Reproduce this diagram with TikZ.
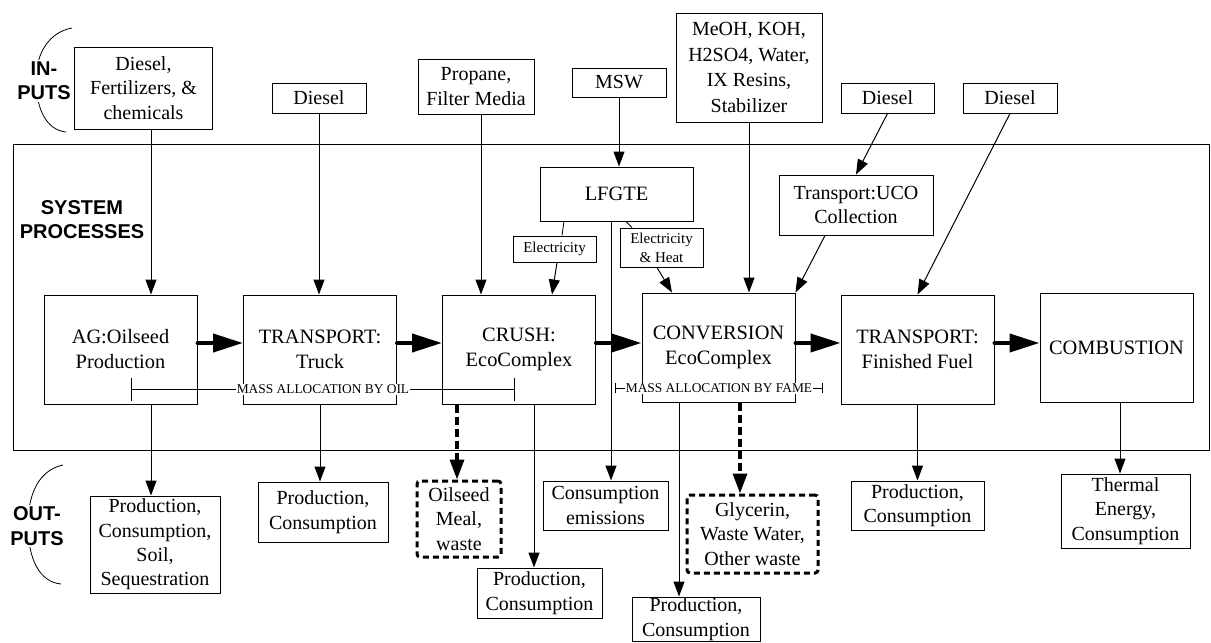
\documentclass[tikz,border=0pt]{standalone}
\usepackage{fontspec}
\setmainfont{Liberation Serif}
\setsansfont{Liberation Sans}
\usetikzlibrary{arrows.meta}

\tikzset{
	box/.style={draw, line width=0.5pt, align=center, inner sep=1pt, font=\fontsize{10}{12.2}\selectfont},
	procbox/.style={box, minimum width=76.5pt, minimum height=54.5pt, font=\fontsize{10.2}{12.5}\selectfont},
	smallbox/.style={box, font=\fontsize{7.5}{9.5}\selectfont},
	wastebox/.style={box, line width=1.5pt, dash pattern=on 3pt off 2pt, rounded corners=1.5pt},
	tag/.style={font=\fontsize{10}{12.2}\selectfont\sffamily\bfseries, align=center, fill=white, inner sep=1pt},
	arr/.style={-{Triangle[length=7.5pt,width=5.5pt]}, line width=0.5pt},
	flow/.style={-{Triangle[length=15pt,width=9pt]}, line width=2pt, line cap=round},
	wasteflow/.style={-{Triangle[length=10pt,width=7pt]}, line width=1.7pt, dash pattern=on 4pt off 2pt},
	alloc/.style={line width=0.5pt, font=\fontsize{6.7}{8}\selectfont}
}

\begin{document}
\begin{tikzpicture}[x=0.5pt, y=-0.5pt]
		\useasboundingbox (0,0) rectangle (1211,643);
		\coordinate (flowrow) at (0,343);
		\coordinate (oilL) at (131,389);
		\coordinate (oilR) at (515,389);
		\coordinate (fameL) at (615,388);
		\coordinate (fameR) at (823,388);

		% system frame and side labels
		\draw[line width=0.5pt] (13,144) rectangle (1209,450);
		\draw (72,28) .. controls (50,32) and (36,52) .. (36,80) .. controls (36,108) and (46,130) .. (66,132);
		\draw (63,465) .. controls (40,470) and (28,492) .. (28,525) .. controls (28,560) and (40,582) .. (61,584);
		\node[tag] (inlbl) at (44,81) {IN-\\PUTS};
		\node[tag] (syslbl) at (82,219.5) {SYSTEM\\PROCESSES};
		\node[tag] (outlbl) at (37,526) {OUT-\\PUTS};

		% inputs
		\node[box, minimum width=69pt, minimum height=41pt] (fert) at (143.5,88) {Diesel,\\Fertilizers, \&\\chemicals};
		\node[box, minimum width=47pt, minimum height=15pt] (dsl1) at (319,98) {Diesel};
		\node[box, minimum width=58pt, minimum height=27.5pt] (prop) at (476,86.5) {Propane,\\Filter Media};
		\node[box, minimum width=47pt, minimum height=14.5pt] (msw) at (619,82.5) {MSW};
		\node[box, minimum width=73pt, minimum height=54.5pt, font=\fontsize{10}{12.7}\selectfont] (meoh) at (749,67.5) {MeOH, KOH,\\H2SO4, Water,\\IX Resins,\\Stabilizer};
		\node[box, minimum width=46.5pt, minimum height=15pt] (dsl3) at (887.5,98) {Diesel};
		\node[box, minimum width=47pt, minimum height=15pt] (dsl4) at (1010,98) {Diesel};

		% processes
		\node[procbox] (ag) at (120.5,349.5) {AG:Oilseed\\Production};
		\node[procbox] (truck) at (320,349.5) {TRANSPORT:\\Truck};
		\node[procbox] (crush) at (519,349.5) {CRUSH:\\EcoComplex};
		\node[procbox] (conv) at (718.5,347.5) {CONVERSION\\EcoComplex};
		\node[procbox] (fin) at (917.5,349.5) {TRANSPORT:\\Finished Fuel};
		\node[procbox] (comb) at (1116.5,347.5) {COMBUSTION};
		\node[box, minimum width=76.5pt, minimum height=27pt, font=\fontsize{10.2}{12.5}\selectfont] (lfgte) at (616.5,194) {LFGTE};
		\node[box, minimum width=77pt, minimum height=30pt] (uco) at (856,205) {Transport:UCO\\Collection};
		\node[smallbox, minimum width=41.5pt, minimum height=13pt] (elec) at (554.5,249) {Electricity};
		\node[smallbox, minimum width=41.5pt, minimum height=19.5pt] (elheat) at (661.5,247.5) {Electricity\\\& Heat};

		% outputs
		\node[box, minimum width=65pt, minimum height=48.5pt] (soil) at (155,544.5) {Production,\\Consumption,\\Soil,\\Sequestration};
		\node[box, minimum width=65pt, minimum height=30pt] (prodt) at (323,512) {Production,\\Consumption};
		\node[wastebox, minimum width=42pt, minimum height=38pt] (meal) at (459,519) {Oilseed\\Meal,\\waste};
		\node[box, minimum width=62.5pt, minimum height=25pt] (prodc) at (539.5,593) {Production,\\Consumption};
		\node[box, minimum width=62.5pt, minimum height=24.5pt] (emis) at (605.5,505.5) {Consumption\\emissions};
		\node[wastebox, minimum width=65.5pt, minimum height=39pt] (glyc) at (752.5,534) {Glycerin,\\Waste Water,\\Other waste};
		\node[box, minimum width=64pt, minimum height=22pt, inner ysep=0pt] (prodv) at (696,619) {Production,\\Consumption};
		\node[box, minimum width=66.5pt, minimum height=24.5pt] (prodf) at (917.5,505.5) {Production,\\Consumption};
		\node[box, minimum width=64.5pt, minimum height=37pt] (therm) at (1125.5,511) {Thermal\\Energy,\\Consumption};

		% input arrows
		\draw[arr] ([xshift=3.75pt]fert.south) -- ([xshift=3.75pt]fert.south |- ag.north);
		\draw[arr] (dsl1) -- (dsl1 |- truck.north);
		\draw[arr] ([xshift=2.5pt]prop.south) -- ([xshift=2.5pt]prop.south |- crush.north);
		\draw[arr] (msw) -- (msw |- lfgte.north);
		\draw[arr] (meoh) -- (meoh |- conv.north);
		\draw[arr] (dsl3.south) -- (uco.north);
		\draw[arr] ([xshift=-15.5pt]uco.south) -- (conv.north east);
		\draw[arr] (dsl4.south) -- (fin.north);

		% LFGTE branches
		\draw ([xshift=-26.25pt]lfgte.south) -- ([xshift=3.75pt]elec.north);
		\draw[arr] ([xshift=1.25pt]elec.south) -- ([xshift=16.5pt]crush.north);
		\draw ([xshift=4.75pt]lfgte.south) -- ([xshift=-14.75pt]elheat.north);
		\draw[arr] ([xshift=-2.25pt]elheat.south) -- ([xshift=-23.25pt]conv.north);
		\draw[arr] ([xshift=-2.75pt]lfgte.south) -- ([xshift=-2.75pt]lfgte.south |- emis.north);

		% main chain
		\foreach \a/\b in {ag/truck, truck/crush, crush/conv, conv/fin, fin/comb}
			\draw[flow] (\a.east |- flowrow) -- (\b.west |- flowrow);

		% output arrows
		\draw[arr] ([xshift=-2pt]soil.north |- ag.south) -- ([xshift=-2pt]soil.north);
		\draw[arr] (truck.south) -- (truck.south |- prodt.north);
		\draw[arr] ([xshift=7.5pt]crush.south) -- ([xshift=7.5pt]crush.south |- prodc.north);
		\draw[wasteflow] ([xshift=-31pt]crush.south) -- ([xshift=-31pt]crush.south |- meal.north);
		\draw[arr] ([xshift=-19.75pt]conv.south) -- ([xshift=-19.75pt]conv.south |- prodv.north);
		\draw[wasteflow] ([xshift=10.75pt]conv.south) -- ([xshift=10.75pt]conv.south |- glyc.north);
		\draw[arr] (fin.south) -- (fin.south |- prodf.north);
		\draw[arr] ([xshift=1.75pt]comb.south) -- ([xshift=1.75pt]comb.south |- therm.north);

		% allocation ranges
		\draw[alloc, {Bar[width=11.5pt]}-{Bar[width=11.5pt]}] (oilL) -- node[fill=white, inner sep=0.5pt] (oillbl) {MASS ALLOCATION BY OIL} (oilR);
		\draw[alloc, {Bar[width=5pt]}-{Bar[width=5pt]}] (fameL) -- node[fill=white, inner sep=0.5pt] (famelbl) {MASS ALLOCATION BY FAME} (fameR);
	\end{tikzpicture}
\end{document}
